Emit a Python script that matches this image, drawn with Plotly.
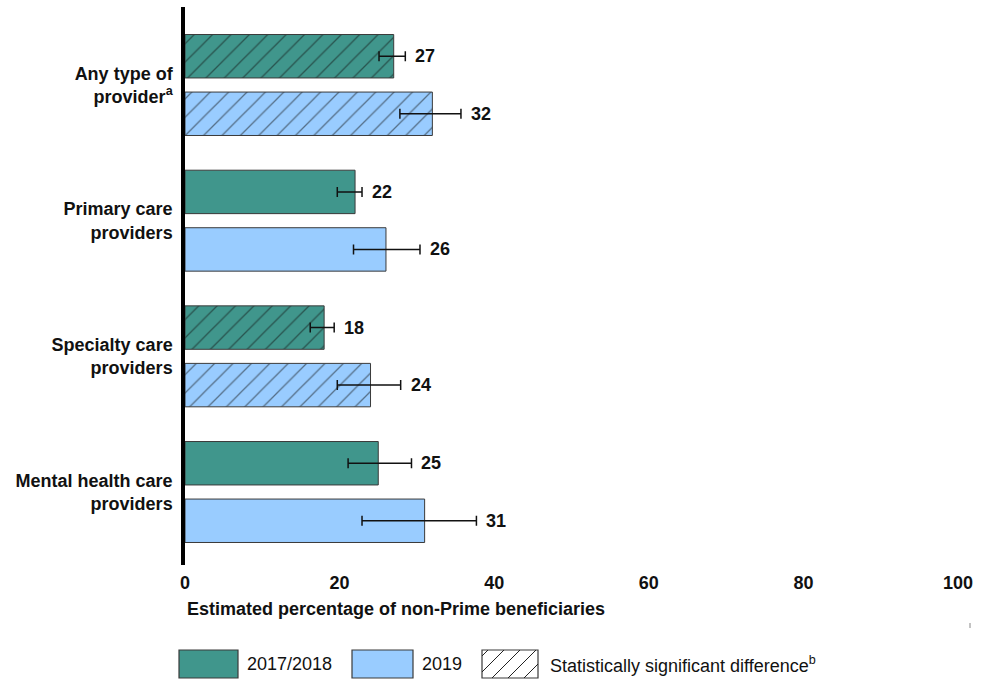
import plotly.graph_objects as go

# Provider categories (top to bottom)
categories = [
    "Any type of<br>provider<sup>a</sup>",
    "Primary care<br>providers",
    "Specialty care<br>providers",
    "Mental health care<br>providers",
]

# Estimated percentages and confidence bounds
pct_2017_2018 = [27, 22, 18, 25]
low_2017_2018 = [25.1, 19.7, 16.2, 21.1]
high_2017_2018 = [28.5, 22.9, 19.3, 29.3]

pct_2019 = [32, 26, 24, 31]
low_2019 = [27.8, 21.8, 19.7, 22.9]
high_2019 = [35.7, 30.4, 27.9, 37.7]

# Whether the change between years is statistically significant
significant = [True, False, True, False]

x_ticks = [0, 20, 40, 60, 80, 100]

GREEN = "#40968C"
BLUE = "#99CCFF"
OUTLINE = "#3a3a3a"
FONT = "Liberation Sans, Arial, sans-serif"

W, H = 990, 681
ML, MR, MT, MB = 185, 32, 7, 116
PW, PH = W - ML - MR, H - MT - MB


def px_x(px):
    """Page pixel x -> paper x."""
    return (px - ML) / PW


def px_y(py):
    """Page pixel y -> paper y."""
    return (H - MB - py) / PH


hatch = ["/" if s else "" for s in significant]


def bar_trace(name, vals, lows, highs, color):
    return go.Bar(
        name=name,
        y=categories,
        x=vals,
        orientation="h",
        marker=dict(
            color=color,
            line=dict(color=OUTLINE, width=1),
            pattern=dict(shape=hatch, fgcolor="#111111", bgcolor=color,
                         size=13, solidity=0.1, fillmode="overlay"),
        ),
        error_x=dict(
            type="data",
            symmetric=False,
            array=[h - v for h, v in zip(highs, vals)],
            arrayminus=[v - l for v, l in zip(vals, lows)],
            color="#111111",
            thickness=1.5,
            width=5,
        ),
        showlegend=False,
        hoverinfo="x+y",
    )


fig = go.Figure()
fig.add_trace(bar_trace("2017/2018", pct_2017_2018, low_2017_2018, high_2017_2018, GREEN))
fig.add_trace(bar_trace("2019", pct_2019, low_2019, high_2019, BLUE))

# Value labels to the right of each error bar
for trace_idx, (vals, highs) in enumerate([(pct_2017_2018, high_2017_2018),
                                           (pct_2019, high_2019)]):
    for cat, v, h in zip(categories, vals, highs):
        fig.add_annotation(
            x=h, y=cat, text=f"<b>{v}</b>", showarrow=False,
            xanchor="left", xshift=8,
            yshift=(28.8 if trace_idx == 0 else -28.8),
            font=dict(family=FONT, size=18, color="#111111"),
        )

# Axis title, left aligned under the axis
fig.add_annotation(
    xref="paper", yref="paper", x=0, y=px_y(609),
    xanchor="left", yanchor="middle", showarrow=False,
    text="<b>Estimated percentage of non-Prime beneficiaries</b>",
    font=dict(family=FONT, size=18, color="#111111"),
)

# Legend drawn as boxes with text
legend_items = [
    (179, 238, GREEN, False, "2017/2018", 245),
    (352, 413, BLUE, False, "2019", 420),
    (482, 538, "white", True,
     "Statistically significant difference<sup style='font-size:11px'>b</sup>", 548),
]
box_top, box_bot = 650, 678
for x0, x1, fill, hatched, label, tx in legend_items:
    fig.add_shape(
        type="rect", xref="paper", yref="paper",
        x0=px_x(x0), x1=px_x(x1), y0=px_y(box_bot), y1=px_y(box_top),
        fillcolor=fill, line=dict(color=OUTLINE, width=1.2),
    )
    if hatched:
        step = 16
        hgt = box_bot - box_top
        segs = []
        for start in range(x0 - hgt + 6, x1, step):
            ax, ay = start, box_bot
            bx, by = start + hgt, box_top
            # clip to box horizontally
            if ax < x0:
                ay = box_bot - (x0 - ax)
                ax = x0
            if bx > x1:
                by = box_top + (bx - x1)
                bx = x1
            if bx <= ax:
                continue
            segs.append(f"M{px_x(ax)},{px_y(ay)} L{px_x(bx)},{px_y(by)}")
        fig.add_shape(
            type="path", xref="paper", yref="paper", path=" ".join(segs),
            line=dict(color="#222222", width=1),
        )
    fig.add_annotation(
        xref="paper", yref="paper", x=px_x(tx), y=px_y(664),
        xanchor="left", yanchor="middle", showarrow=False,
        text=label, font=dict(family=FONT, size=18, color="#111111"),
    )

# Small stray tick at lower right
fig.add_shape(
    type="line", xref="paper", yref="paper",
    x0=px_x(970), x1=px_x(970), y0=px_y(623), y1=px_y(628),
    line=dict(color="#888888", width=1),
)

fig.update_layout(
    width=W, height=H,
    margin=dict(l=ML, r=MR, t=MT, b=MB, pad=0),
    paper_bgcolor="white", plot_bgcolor="white",
    barmode="group", bargap=0.152, bargroupgap=0.245,
    font=dict(family=FONT, size=18, color="#111111"),
    showlegend=False,
)
fig.update_xaxes(
    range=[0, 100], tickvals=x_ticks, ticktext=[f"<b>{t}</b>" for t in x_ticks],
    showgrid=False, zeroline=False, showline=False,
    ticks="outside", ticklen=1, tickcolor="rgba(0,0,0,0)",
    tickfont=dict(family=FONT, size=18, color="#111111"),
)
fig.update_yaxes(
    type="category", categoryorder="array", categoryarray=categories,
    range=[3.538, -0.575],
    showgrid=False, zeroline=False,
    showline=True, linecolor="black", linewidth=3.5,
    ticks="outside", ticklen=5, tickcolor="rgba(0,0,0,0)",
    ticktext=[f"<b>{c}</b>" for c in categories], tickvals=categories,
    tickfont=dict(family=FONT, size=18, color="#111111"),
)

fig.write_html("out.html")
